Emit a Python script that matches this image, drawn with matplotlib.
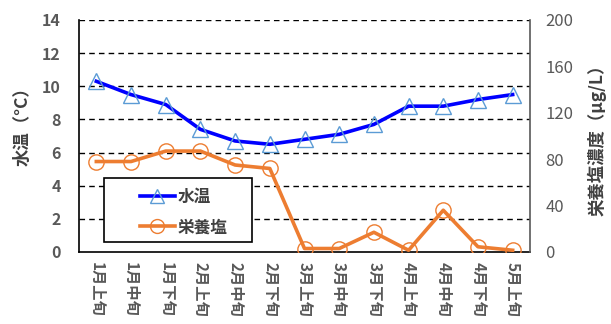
import matplotlib
matplotlib.use("Agg")
import matplotlib.pyplot as plt
from matplotlib.lines import Line2D
from matplotlib.patches import Rectangle

plt.rcParams['font.family'] = ['Noto Sans CJK JP', 'DejaVu Sans']

# 旬ごとの観測値
periods = ['1月上旬', '1月中旬', '1月下旬', '2月上旬', '2月中旬', '2月下旬', '3月上旬',
           '3月中旬', '3月下旬', '4月上旬', '4月中旬', '4月下旬', '5月上旬']
water_temp = [10.3, 9.5, 8.9, 7.4, 6.7, 6.5, 6.8, 7.1, 7.7, 8.8, 8.8, 9.2, 9.5]
nutrient = [78, 78, 87, 87, 75, 72, 3, 3, 17, 1.5, 36, 4.5, 1.5]

left_ticks = [0, 2, 4, 6, 8, 10, 12, 14]
right_ticks = [0, 40, 80, 120, 160, 200]

BLUE = '#0000FF'
TRI = '#5B9BD5'
ORANGE = '#ED7D31'
TXT = '#595959'

fig = plt.figure(figsize=(6.11, 3.24), dpi=100)
ax1 = fig.add_axes([79 / 611, 72 / 324, 451 / 611, 232 / 324])
ax2 = ax1.twinx()

x = list(range(len(periods)))
ax1.plot(x, water_temp, color=BLUE, lw=2.6, marker='^', ms=11,
         mfc='none', mec=TRI, mew=1.0, zorder=3)
ax2.plot(x, nutrient, color=ORANGE, lw=2.6, marker='o', ms=11,
         mfc='none', mec=ORANGE, mew=1.0, zorder=3)

ax1.set_xlim(-0.5, len(periods) - 0.5)
ax1.set_ylim(0, 14)
ax2.set_ylim(0, 200)
ax1.set_yticks(left_ticks)
ax2.set_yticks(right_ticks)

# 破線のグリッド(左軸基準)
for v in left_ticks[1:]:
    ax1.axhline(v, color='black', lw=1.0, ls=(0, (4, 3)), zorder=1)

ax1.set_xticks(x)
ax1.set_xticklabels(periods, rotation=-90, fontsize=11, fontweight='bold',
                    color=TXT, va='top', ha='center')
ax1.tick_params(axis='x', length=0, pad=7)
ax1.tick_params(axis='y', length=0, pad=13, labelsize=11.5, labelcolor=TXT)
for t in ax1.get_yticklabels():
    t.set_fontweight('bold')
ax2.tick_params(axis='y', length=0, pad=11, labelsize=12, labelcolor=TXT)

for ax in (ax1, ax2):
    ax.spines['top'].set_visible(False)
ax1.spines['left'].set_color('black')
ax1.spines['bottom'].set_color('black')
ax1.spines['left'].set_linewidth(1.2)
ax1.spines['bottom'].set_linewidth(1.2)
ax2.spines['left'].set_visible(False)
ax2.spines['bottom'].set_visible(False)
ax2.spines['right'].set_color(TXT)
ax2.spines['right'].set_linewidth(1.2)
ax1.spines['right'].set_visible(False)

ax1.set_ylabel('水温（°C）', fontsize=12.5, fontweight='bold', color='#404040')
ax1.yaxis.set_label_coords(-0.104, 0.56)
ax2.set_ylabel('栄養塩濃度（μg/L）', fontsize=12.5, fontweight='bold', color='#404040',
               rotation=90)
ax2.yaxis.set_label_coords(1.127, 0.50)

# 凡例の枠
ax2.add_patch(Rectangle((0.0554, 0.043), 0.328, 0.276, transform=ax2.transAxes,
                        facecolor='white', edgecolor='black', lw=1.2, zorder=4))
handles = [
    Line2D([], [], color=BLUE, lw=2.6, marker='^', ms=10, mfc='none', mec=TRI, mew=1.0),
    Line2D([], [], color=ORANGE, lw=2.6, marker='o', ms=10, mfc='none', mec=ORANGE, mew=1.0),
]
leg = ax2.legend(handles, ['水温', '栄養塩'], loc='upper left',
                 bbox_to_anchor=(0.116, 0.313), frameon=False, borderpad=0,
                 handlelength=2.1, handletextpad=0.15, labelspacing=0.75,
                 prop={'size': 12, 'weight': 'bold'})
leg.set_zorder(5)
for t in leg.get_texts():
    t.set_color('#404040')

fig.savefig('out.png', dpi=100)
